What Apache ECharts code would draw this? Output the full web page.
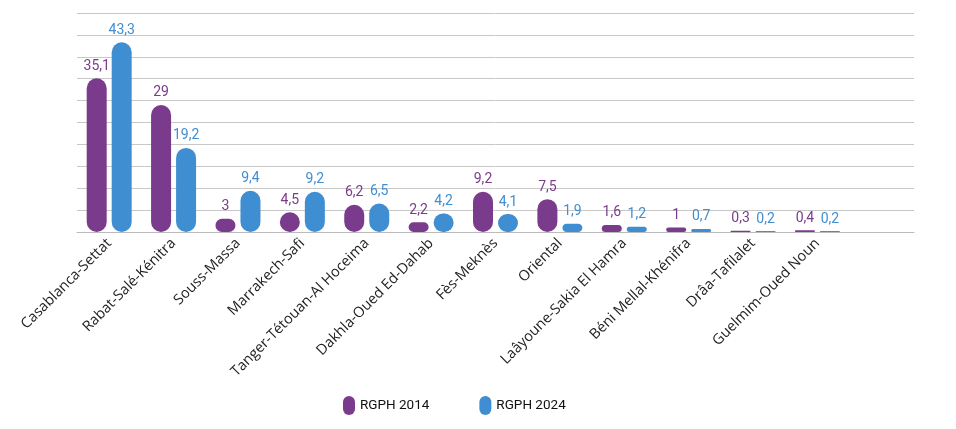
<!DOCTYPE html>
<html><head><meta charset="utf-8">
<script src="https://cdn.jsdelivr.net/npm/echarts@6/dist/echarts.min.js"></script>
<style>html,body{margin:0;padding:0;background:#fff}#c{width:956px;height:429px}</style>
</head><body><div id="c"></div>
<script>
const categories = ['Casablanca-Settat','Rabat-Salé-Kénitra','Souss-Massa','Marrakech-Safi','Tanger-Tétouan-Al Hoceima','Dakhla-Oued Ed-Dahab','Fès-Meknès','Oriental','Laâyoune-Sakia El Hamra','Béni Mellal-Khénifra','Drâa-Tafilalet','Guelmim-Oued Noun'];
const rgph2014 = [35.1, 29, 3, 4.5, 6.2, 2.2, 9.2, 7.5, 1.6, 1, 0.3, 0.4];
const rgph2024 = [43.3, 19.2, 9.4, 9.2, 6.5, 4.2, 4.1, 1.9, 1.2, 0.7, 0.2, 0.2];
const yTicks = {min: 0, max: 50, interval: 5};

const purple = '#7B3B8C', blue = '#3F8ED2';
const numFont = "Roboto,'DejaVu Sans Condensed',sans-serif";
const fmt = p => String(p.value).replace('.', ',');
const pill = 'path://M6,0 A6,6 0 0 1 12,6 L12,13 A6,6 0 0 1 6,19 A6,6 0 0 1 0,13 L0,6 A6,6 0 0 1 6,0 Z';

const chart = echarts.init(document.getElementById('c'));
chart.setOption({
  animation: false,
  grid: {left: 77, right: 42, top: 13, bottom: 197},
  legend: {
    left: 338, top: 391, itemWidth: 12, itemHeight: 19, itemGap: 50,
    textStyle: {fontFamily: numFont, fontSize: 13.5, color: '#111'},
    data: [{name: 'RGPH 2014', icon: pill}, {name: 'RGPH 2024', icon: pill}]
  },
  xAxis: {
    type: 'category', data: categories.concat(['']),
    axisLine: {lineStyle: {color: '#bbb'}}, axisTick: {show: false},
    axisLabel: {rotate: 45, interval: 0, margin: 9, color: '#222', fontSize: 14.5, fontFamily: "'Open Sans','Noto Sans',sans-serif"}
  },
  yAxis: {
    type: 'value', min: yTicks.min, max: yTicks.max, interval: yTicks.interval,
    axisLabel: {show: false}, axisLine: {show: false}, axisTick: {show: false},
    splitLine: {lineStyle: {color: '#c8c8c8', width: 1}}
  },
  series: [
    {name: 'RGPH 2014', type: 'bar', data: rgph2014, barWidth: 20, barGap: '25%',
     itemStyle: {color: purple, borderRadius: 10},
     label: {show: true, position: 'top', distance: 5, color: purple, fontFamily: numFont, fontSize: 14, formatter: fmt}},
    {name: 'RGPH 2024', type: 'bar', data: rgph2024, barWidth: 20,
     itemStyle: {color: blue, borderRadius: 10},
     label: {show: true, position: 'top', distance: 5, color: blue, fontFamily: numFont, fontSize: 14, formatter: fmt}}
  ]
});
</script></body></html>
